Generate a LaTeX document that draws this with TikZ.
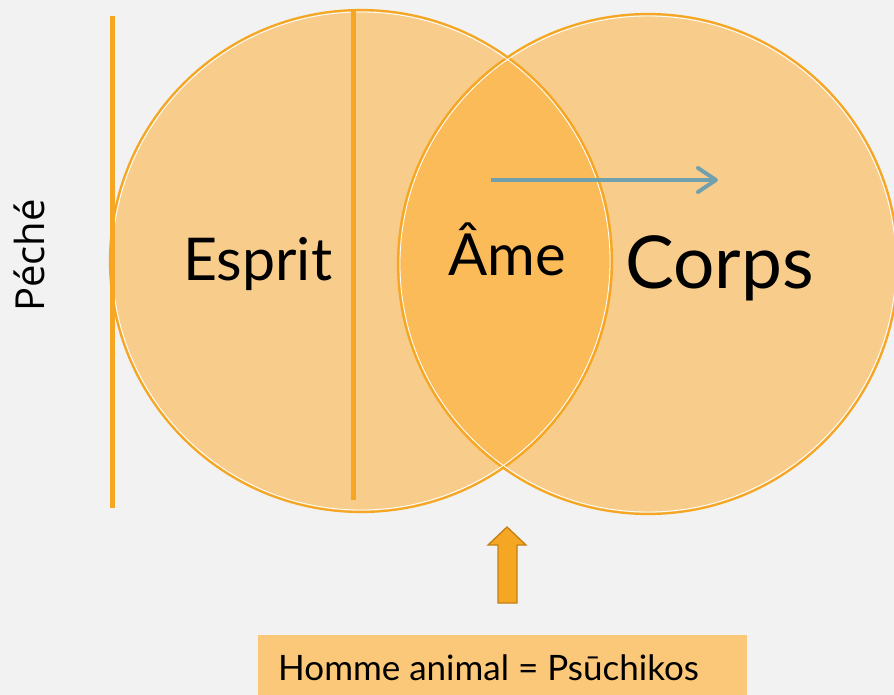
\documentclass[tikz,border=0pt]{standalone}
\usepackage{fontspec}
\usetikzlibrary{arrows.meta}
\newfontfamily\gillf{Lato}
\newfontfamily\calf{Open Sans}
\definecolor{bgc}{HTML}{F2F2F2}
\definecolor{fillo}{RGB}{255,170,40}
\definecolor{orng}{HTML}{F5A623}
\definecolor{orngdk}{HTML}{C47F14}
\definecolor{boxc}{HTML}{FAC878}
\definecolor{bluec}{HTML}{6FA0AB}
\begin{document}
\begin{tikzpicture}[x=1pt,y=-1pt,
  circ/.style={fill=fillo,fill opacity=0.5,draw=none},
  rim/.style={draw=orng,line width=2.2pt},
  rimw/.style={draw=white,line width=0.8pt},
  vline/.style={draw=orng,line width=5pt},
  bigtxt/.style={anchor=base west,inner sep=0pt,text=black},
]
\fill[bgc] (0,0) rectangle (894,695);
\useasboundingbox (0,0) rectangle (894,695);
% circles
\fill[circ] (361,261) circle (251);
\fill[circ] (648,264) circle (250);
\draw[rim] (361,261) circle (251);
\draw[rim] (648,264) circle (250);
\draw[rimw] (361,261) circle (249);
\draw[rimw] (648,264) circle (248);
% vertical lines
\coordinate (l1t) at (112,16);
\coordinate (l1b) at (112,508);
\coordinate (l2t) at (353,11);
\coordinate (l2b) at (353,500);
\draw[vline] (l1t) -- (l1b);
\draw[vline] (l2t) -- (l2b);
% texts
\node[bigtxt,font=\gillf\fontsize{59}{59}\selectfont] (esprit) at (183,280) {Esprit};
\node[bigtxt,font=\gillf\fontsize{58}{58}\selectfont] (ame) at (448,275) {Âme};
\node[bigtxt,font=\gillf\fontsize{73}{73}\selectfont] (corps) at (625,288) {Corps};
\node[bigtxt,font=\calf\fontsize{40}{40}\selectfont,rotate=90] (peche) at (44,312) {Péché};
% blue arrow
\coordinate (ba) at (491,180);
\coordinate (bb) at (718,180);
\draw[bluec,line width=4pt,-{Straight Barb[length=18pt,width=24pt,round]}] (ba) -- (bb);
% orange block arrow
\draw[fill=orng,draw=orngdk,line width=1.3pt,line join=miter]
  (498,603) -- (498,545) -- (488,545) -- (507,527) -- (526,545) -- (517,545) -- (517,603) -- cycle;
% bottom box
\fill[boxc] (258,635) rectangle (747,695);
\node[bigtxt,font=\gillf\fontsize{35}{35}\selectfont] (homme) at (278,680) {Homme animal = Psūchikos};
\end{tikzpicture}
\end{document}
